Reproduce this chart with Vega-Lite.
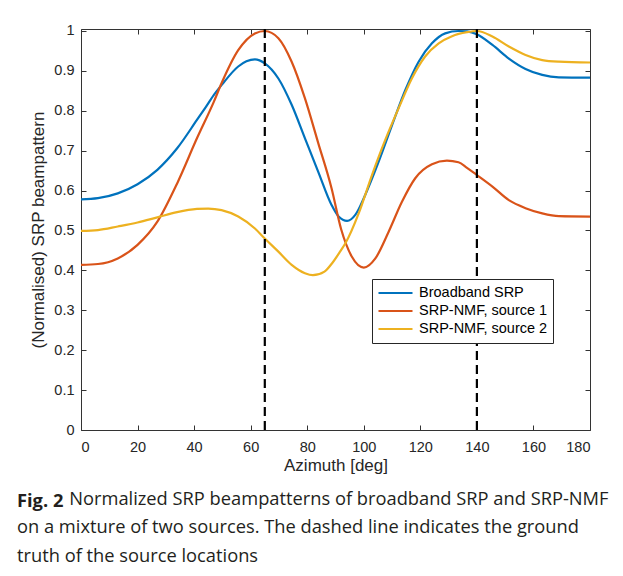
{
  "$schema": "https://vega.github.io/schema/vega-lite/v6.json",
  "width": 509,
  "height": 401,
  "autosize": "none",
  "padding": {"left": 81, "top": 29, "right": 33, "bottom": 146},
  "background": "white",
  "config": {
    "view": {"stroke": null},
    "axis": {
      "labelFont": "Liberation Sans",
      "labelFontSize": 14.5,
      "labelColor": "#262626",
      "titleFont": "Liberation Sans",
      "titleFontSize": 17,
      "titleFontWeight": "normal",
      "titleColor": "#262626",
      "domainColor": "#333333",
      "tickColor": "#333333",
      "tickSize": -5,
      "grid": false
    },
    "legend": {
      "orient": "none",
      "legendX": 291,
      "legendY": 250,
      "symbolType": "stroke",
      "symbolSize": 1156,
      "symbolStrokeWidth": 2.2,
      "labelFont": "Liberation Sans",
      "labelFontSize": 14.5,
      "labelColor": "#000000",
      "strokeColor": "#262626",
      "fillColor": "white",
      "padding": 5,
      "rowPadding": 0,
      "labelOffset": 5,
      "clipHeight": 18
    }
  },
  "title": {
    "text": "Fig. 2",
    "subtitle": [
      "\u200b\u00a0\u00a0\u00a0\u00a0\u00a0\u00a0\u00a0\u00a0\u00a0\u00a0\u00a0Normalized SRP beampatterns of broadband SRP and SRP-NMF",
      "on a mixture of two sources. The dashed line indicates the ground",
      "truth of the source locations"
    ],
    "orient": "bottom",
    "anchor": "start",
    "frame": "group",
    "dx": -64,
    "offset": 19,
    "font": "Open Sans",
    "fontSize": 18.3,
    "fontWeight": "bold",
    "color": "#231f20",
    "subtitleFont": "Open Sans",
    "subtitleFontSize": 18.3,
    "subtitleColor": "#231f20",
    "subtitleLineHeight": 28.5,
    "subtitlePadding": -20.3
  },
  "layer": [
    {
      "data": {
        "values": [
          {"az": 0, "v": 0.578, "s": "Broadband SRP"},
          {"az": 6, "v": 0.581, "s": "Broadband SRP"},
          {"az": 13, "v": 0.593, "s": "Broadband SRP"},
          {"az": 20, "v": 0.616, "s": "Broadband SRP"},
          {"az": 27, "v": 0.652, "s": "Broadband SRP"},
          {"az": 34, "v": 0.706, "s": "Broadband SRP"},
          {"az": 41, "v": 0.777, "s": "Broadband SRP"},
          {"az": 44, "v": 0.808, "s": "Broadband SRP"},
          {"az": 47, "v": 0.840, "s": "Broadband SRP"},
          {"az": 50, "v": 0.867, "s": "Broadband SRP"},
          {"az": 55.6, "v": 0.911, "s": "Broadband SRP"},
          {"az": 58.5, "v": 0.924, "s": "Broadband SRP"},
          {"az": 61.5, "v": 0.929, "s": "Broadband SRP"},
          {"az": 65, "v": 0.919, "s": "Broadband SRP"},
          {"az": 69.8, "v": 0.881, "s": "Broadband SRP"},
          {"az": 74.5, "v": 0.815, "s": "Broadband SRP"},
          {"az": 79.2, "v": 0.731, "s": "Broadband SRP"},
          {"az": 83.9, "v": 0.647, "s": "Broadband SRP"},
          {"az": 88.6, "v": 0.564, "s": "Broadband SRP"},
          {"az": 91.1, "v": 0.535, "s": "Broadband SRP"},
          {"az": 94.1, "v": 0.524, "s": "Broadband SRP"},
          {"az": 97, "v": 0.539, "s": "Broadband SRP"},
          {"az": 100.5, "v": 0.589, "s": "Broadband SRP"},
          {"az": 105.3, "v": 0.673, "s": "Broadband SRP"},
          {"az": 110, "v": 0.764, "s": "Broadband SRP"},
          {"az": 114.7, "v": 0.852, "s": "Broadband SRP"},
          {"az": 119.4, "v": 0.923, "s": "Broadband SRP"},
          {"az": 124.1, "v": 0.969, "s": "Broadband SRP"},
          {"az": 128.8, "v": 0.994, "s": "Broadband SRP"},
          {"az": 133.5, "v": 1.0, "s": "Broadband SRP"},
          {"az": 136.5, "v": 0.999, "s": "Broadband SRP"},
          {"az": 140, "v": 0.992, "s": "Broadband SRP"},
          {"az": 145.5, "v": 0.965, "s": "Broadband SRP"},
          {"az": 151.3, "v": 0.931, "s": "Broadband SRP"},
          {"az": 157.2, "v": 0.905, "s": "Broadband SRP"},
          {"az": 163.1, "v": 0.890, "s": "Broadband SRP"},
          {"az": 169, "v": 0.884, "s": "Broadband SRP"},
          {"az": 180, "v": 0.883, "s": "Broadband SRP"},

          {"az": 0, "v": 0.414, "s": "SRP-NMF, source 1"},
          {"az": 6, "v": 0.416, "s": "SRP-NMF, source 1"},
          {"az": 13, "v": 0.430, "s": "SRP-NMF, source 1"},
          {"az": 20, "v": 0.464, "s": "SRP-NMF, source 1"},
          {"az": 27, "v": 0.522, "s": "SRP-NMF, source 1"},
          {"az": 34, "v": 0.618, "s": "SRP-NMF, source 1"},
          {"az": 41, "v": 0.731, "s": "SRP-NMF, source 1"},
          {"az": 47, "v": 0.823, "s": "SRP-NMF, source 1"},
          {"az": 49.7, "v": 0.869, "s": "SRP-NMF, source 1"},
          {"az": 55.6, "v": 0.952, "s": "SRP-NMF, source 1"},
          {"az": 61.5, "v": 0.994, "s": "SRP-NMF, source 1"},
          {"az": 65, "v": 1.0, "s": "SRP-NMF, source 1"},
          {"az": 69.8, "v": 0.982, "s": "SRP-NMF, source 1"},
          {"az": 74.5, "v": 0.923, "s": "SRP-NMF, source 1"},
          {"az": 79.2, "v": 0.831, "s": "SRP-NMF, source 1"},
          {"az": 83.9, "v": 0.719, "s": "SRP-NMF, source 1"},
          {"az": 88.6, "v": 0.606, "s": "SRP-NMF, source 1"},
          {"az": 92, "v": 0.503, "s": "SRP-NMF, source 1"},
          {"az": 95.8, "v": 0.434, "s": "SRP-NMF, source 1"},
          {"az": 100, "v": 0.407, "s": "SRP-NMF, source 1"},
          {"az": 104.1, "v": 0.430, "s": "SRP-NMF, source 1"},
          {"az": 108.8, "v": 0.497, "s": "SRP-NMF, source 1"},
          {"az": 113.5, "v": 0.572, "s": "SRP-NMF, source 1"},
          {"az": 118.2, "v": 0.631, "s": "SRP-NMF, source 1"},
          {"az": 124.1, "v": 0.666, "s": "SRP-NMF, source 1"},
          {"az": 129.4, "v": 0.675, "s": "SRP-NMF, source 1"},
          {"az": 133.5, "v": 0.671, "s": "SRP-NMF, source 1"},
          {"az": 136.5, "v": 0.657, "s": "SRP-NMF, source 1"},
          {"az": 140, "v": 0.639, "s": "SRP-NMF, source 1"},
          {"az": 145.5, "v": 0.610, "s": "SRP-NMF, source 1"},
          {"az": 151.3, "v": 0.576, "s": "SRP-NMF, source 1"},
          {"az": 157.2, "v": 0.556, "s": "SRP-NMF, source 1"},
          {"az": 163.1, "v": 0.543, "s": "SRP-NMF, source 1"},
          {"az": 169, "v": 0.536, "s": "SRP-NMF, source 1"},
          {"az": 180, "v": 0.535, "s": "SRP-NMF, source 1"},

          {"az": 0, "v": 0.499, "s": "SRP-NMF, source 2"},
          {"az": 6, "v": 0.501, "s": "SRP-NMF, source 2"},
          {"az": 13, "v": 0.510, "s": "SRP-NMF, source 2"},
          {"az": 20, "v": 0.520, "s": "SRP-NMF, source 2"},
          {"az": 27, "v": 0.533, "s": "SRP-NMF, source 2"},
          {"az": 34, "v": 0.546, "s": "SRP-NMF, source 2"},
          {"az": 41, "v": 0.554, "s": "SRP-NMF, source 2"},
          {"az": 45, "v": 0.555, "s": "SRP-NMF, source 2"},
          {"az": 49.7, "v": 0.551, "s": "SRP-NMF, source 2"},
          {"az": 55.6, "v": 0.535, "s": "SRP-NMF, source 2"},
          {"az": 61.5, "v": 0.505, "s": "SRP-NMF, source 2"},
          {"az": 65, "v": 0.480, "s": "SRP-NMF, source 2"},
          {"az": 69.8, "v": 0.447, "s": "SRP-NMF, source 2"},
          {"az": 74.5, "v": 0.414, "s": "SRP-NMF, source 2"},
          {"az": 79.2, "v": 0.393, "s": "SRP-NMF, source 2"},
          {"az": 82, "v": 0.388, "s": "SRP-NMF, source 2"},
          {"az": 86.1, "v": 0.397, "s": "SRP-NMF, source 2"},
          {"az": 88.8, "v": 0.418, "s": "SRP-NMF, source 2"},
          {"az": 91.6, "v": 0.447, "s": "SRP-NMF, source 2"},
          {"az": 93.5, "v": 0.468, "s": "SRP-NMF, source 2"},
          {"az": 98.2, "v": 0.543, "s": "SRP-NMF, source 2"},
          {"az": 102.9, "v": 0.639, "s": "SRP-NMF, source 2"},
          {"az": 107.6, "v": 0.727, "s": "SRP-NMF, source 2"},
          {"az": 112.3, "v": 0.806, "s": "SRP-NMF, source 2"},
          {"az": 117, "v": 0.881, "s": "SRP-NMF, source 2"},
          {"az": 121.7, "v": 0.936, "s": "SRP-NMF, source 2"},
          {"az": 126.5, "v": 0.969, "s": "SRP-NMF, source 2"},
          {"az": 131.2, "v": 0.987, "s": "SRP-NMF, source 2"},
          {"az": 136.5, "v": 0.997, "s": "SRP-NMF, source 2"},
          {"az": 140, "v": 1.0, "s": "SRP-NMF, source 2"},
          {"az": 145.5, "v": 0.986, "s": "SRP-NMF, source 2"},
          {"az": 151.3, "v": 0.961, "s": "SRP-NMF, source 2"},
          {"az": 157.2, "v": 0.940, "s": "SRP-NMF, source 2"},
          {"az": 163.1, "v": 0.927, "s": "SRP-NMF, source 2"},
          {"az": 169, "v": 0.923, "s": "SRP-NMF, source 2"},
          {"az": 180, "v": 0.921, "s": "SRP-NMF, source 2"}
        ]
      },
      "mark": {"type": "line", "strokeWidth": 2.2, "interpolate": "monotone"},
      "encoding": {
        "x": {
          "field": "az", "type": "quantitative",
          "scale": {"domain": [0, 180], "nice": false},
          "axis": {"orient": "bottom", "values": [0, 20, 40, 60, 80, 100, 120, 140, 160, 180], "format": "d", "labelPadding": 15, "titlePadding": 4},
          "title": "Azimuth [deg]"
        },
        "y": {
          "field": "v", "type": "quantitative",
          "scale": {"domain": [0, 1.005], "nice": false, "zero": true},
          "axis": {"orient": "left", "values": [0, 0.1, 0.2, 0.3, 0.4, 0.5, 0.6, 0.7, 0.8, 0.9, 1], "format": "~g", "labelPadding": 12, "titlePadding": 6},
          "title": "(Normalised) SRP beampattern"
        },
        "color": {
          "field": "s", "type": "nominal",
          "scale": {"domain": ["Broadband SRP", "SRP-NMF, source 1", "SRP-NMF, source 2"], "range": ["#0072BD", "#D95319", "#EDB120"]},
          "legend": {"title": null}
        }
      }
    },
    {
      "data": {"values": [{"az": 65}, {"az": 140}]},
      "mark": {"type": "rule", "color": "#000000", "strokeWidth": 2.2, "strokeDash": [9, 5]},
      "encoding": {
        "x": {
          "field": "az", "type": "quantitative",
          "axis": {"orient": "top", "values": [0, 20, 40, 60, 80, 100, 120, 140, 160, 180], "labels": false, "title": null}
        },
        "y": {
          "datum": 0, "type": "quantitative",
          "axis": {"orient": "right", "values": [0, 0.1, 0.2, 0.3, 0.4, 0.5, 0.6, 0.7, 0.8, 0.9, 1], "labels": false, "title": null}
        },
        "y2": {"datum": 1.005}
      }
    }
  ],
  "resolve": {"axis": {"x": "independent", "y": "independent"}}
}
